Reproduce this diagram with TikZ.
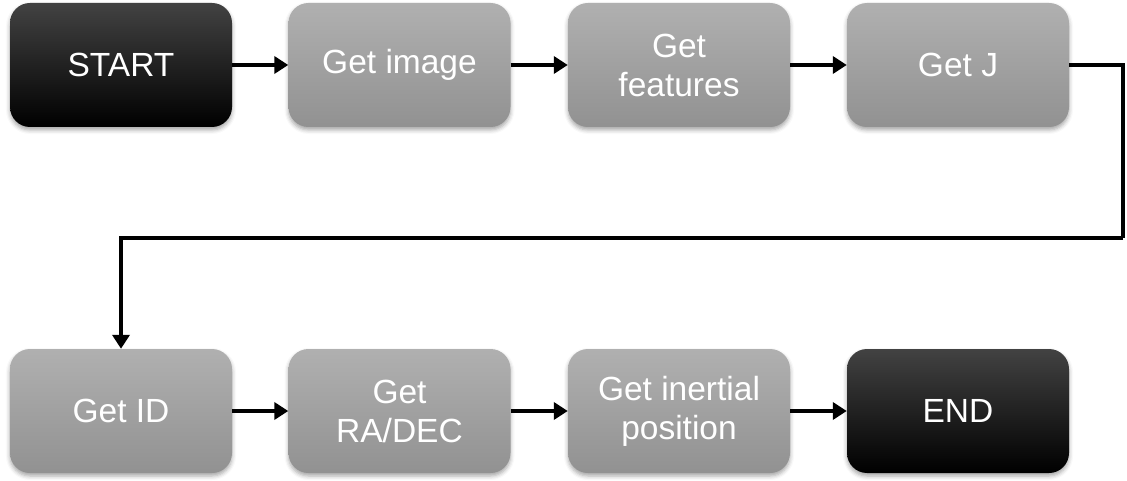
\documentclass[tikz,border=0pt]{standalone}
\usepackage{fontspec}
\setmainfont{Liberation Sans}
\usetikzlibrary{positioning, arrows.meta, shadows.blur}

\begin{document}
\begin{tikzpicture}[
    x=1pt, y=-1pt,
    every node/.style={font=\fontsize{33.5}{39}\selectfont},
    stepgray/.style={rectangle, rounded corners=20pt, align=center,
        minimum width=222pt, minimum height=124pt, text=white,
        top color=black!31, bottom color=black!43,
        blur shadow={shadow xshift=0pt, shadow yshift=-3pt,
            shadow blur radius=4pt, shadow opacity=35}},
    stepblack/.style={stepgray, top color=black!74, middle color=black,
        bottom color=black},
    flow/.style={-{Triangle[length=14pt,width=17pt]}, line width=4pt},
]
\useasboundingbox (0,0) rectangle (1127,481);

% ====== TOP ROW ======
\node[stepblack] (start)    at (121,65)   {START};
\node[stepgray]  (image)    at (399.5,65) {Get image};
\node[stepgray]  (features) at (679,65)   {Get\\features};
\node[stepgray]  (getj)     at (958,65)   {Get J};

% ====== BOTTOM ROW ======
\node[stepgray]  (getid)    at (121,411)   {Get ID};
\node[stepgray]  (radec)    at (399.5,411) {Get\\RA/DEC};
\node[stepgray]  (inertial) at (679,411)   {Get inertial\\position};
\node[stepblack] (finish)   at (958,411)   {END};

\coordinate (turn) at (1123,238);

\foreach \a/\b in {start/image, image/features, features/getj,
    getid/radec, radec/inertial, inertial/finish}
    \draw[flow] (\a) -- (\b);

\draw[line width=4pt] (getj.east) -| (turn);
\draw[flow] (turn) -| (getid.north);

\end{tikzpicture}
\end{document}
